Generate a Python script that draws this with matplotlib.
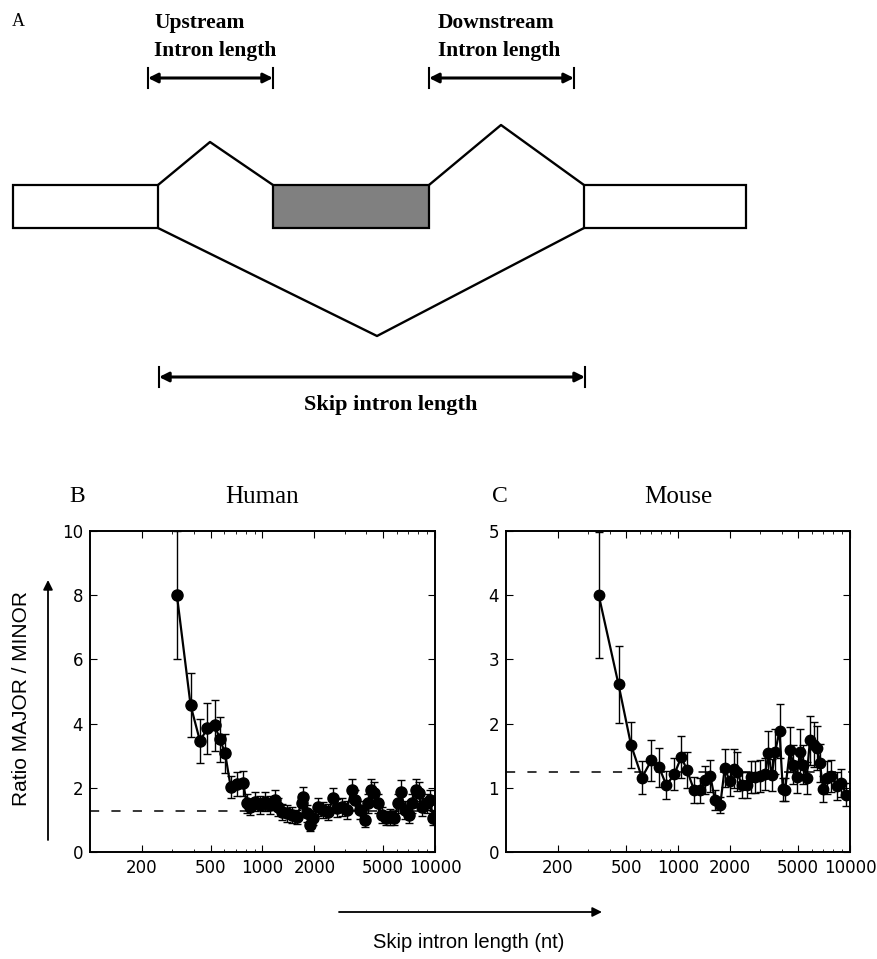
import matplotlib
matplotlib.use('Agg')
import matplotlib.pyplot as plt
from matplotlib.patches import Rectangle

# data
human_len = [319, 383, 434, 479, 528, 567, 607, 654, 708, 774,
             809, 847, 905, 968, 1034, 1105, 1181, 1235, 1291, 1380,
             1476, 1578, 1687, 1725, 1803, 1885, 1969, 2104, 2249, 2404,
             2570, 2690, 2876, 3076, 3289, 3436, 3674, 3927, 4104, 4253,
             4449, 4655, 4909, 5178, 5483, 5808, 6125, 6350, 6700, 7067,
             7387, 7724, 8072, 8440, 8940, 9350, 9770]
human_ratio = [8.0, 4.57, 3.46, 3.85, 3.95, 3.51, 3.07, 2.03, 2.11, 2.14,
               1.52, 1.41, 1.57, 1.46, 1.57, 1.46, 1.62, 1.41, 1.26, 1.20,
               1.15, 1.10, 1.52, 1.72, 1.20, 0.84, 1.05, 1.41, 1.31, 1.26,
               1.67, 1.36, 1.41, 1.31, 1.93, 1.62, 1.31, 1.00, 1.52, 1.93,
               1.83, 1.52, 1.15, 1.05, 1.10, 1.05, 1.52, 1.88, 1.31, 1.15,
               1.52, 1.93, 1.83, 1.41, 1.52, 1.62, 1.05]
human_err = [2.0, 1.0, 0.68, 0.8, 0.8, 0.7, 0.6, 0.35, 0.38, 0.38,
             0.3, 0.25, 0.3, 0.28, 0.3, 0.28, 0.3, 0.28, 0.25, 0.25,
             0.25, 0.22, 0.3, 0.3, 0.25, 0.2, 0.22, 0.28, 0.25, 0.25,
             0.32, 0.28, 0.28, 0.28, 0.35, 0.32, 0.28, 0.22, 0.3, 0.35,
             0.35, 0.3, 0.25, 0.22, 0.25, 0.22, 0.3, 0.35, 0.28, 0.25,
             0.3, 0.35, 0.35, 0.28, 0.3, 0.3, 0.22]

mouse_len = [346, 451, 533, 617, 701, 777, 855, 952, 1045, 1127,
             1237, 1340, 1440, 1540, 1640, 1760, 1870, 2000, 2107, 2203,
             2355, 2515, 2653, 2813, 3006, 3213, 3358, 3511, 3672, 3893,
             4066, 4197, 4478, 4685, 4896, 5120, 5350, 5590, 5850, 6190,
             6470, 6680, 6980, 7390, 7800, 8450, 8910, 9530]
mouse_ratio = [4.0, 2.61, 1.67, 1.16, 1.43, 1.32, 1.04, 1.21, 1.48, 1.28,
               0.97, 0.96, 1.12, 1.19, 0.81, 0.73, 1.31, 1.10, 1.30, 1.25,
               1.04, 1.04, 1.17, 1.17, 1.18, 1.22, 1.54, 1.20, 1.56, 1.89,
               0.98, 0.97, 1.59, 1.36, 1.17, 1.56, 1.36, 1.15, 1.74, 1.67,
               1.62, 1.39, 0.98, 1.16, 1.18, 1.03, 1.07, 0.89]
mouse_err = [0.98, 0.6, 0.36, 0.25, 0.32, 0.3, 0.22, 0.25, 0.32, 0.28,
             0.2, 0.2, 0.22, 0.25, 0.15, 0.12, 0.3, 0.22, 0.3, 0.3,
             0.2, 0.2, 0.25, 0.25, 0.25, 0.25, 0.35, 0.25, 0.35, 0.42,
             0.18, 0.18, 0.35, 0.3, 0.25, 0.35, 0.3, 0.25, 0.38, 0.35,
             0.35, 0.3, 0.2, 0.25, 0.25, 0.22, 0.22, 0.18]

baseline_human = 1.27
baseline_mouse = 1.25

xtick_vals = [200, 500, 1000, 2000, 5000, 10000]
human_yticks = [0, 2, 4, 6, 8, 10]
mouse_yticks = [0, 1, 2, 3, 4, 5]

W, H = 878, 959
fig = plt.figure(figsize=(W / 100, H / 100), dpi=100)

# background axes in pixel units for the schematic and the free labels
bg = fig.add_axes([0, 0, 1, 1])
bg.set_xlim(0, W)
bg.set_ylim(H, 0)
bg.axis('off')

serif = 'Liberation Serif'
sans = 'Liberation Sans'

# --- panel A: exon / intron schematic ---
exon_top, exon_bot = 185, 228
bg.add_patch(Rectangle((13, exon_top), 145, exon_bot - exon_top, fc='white', ec='k', lw=1.6))
bg.add_patch(Rectangle((273, exon_top), 156, exon_bot - exon_top, fc='#808080', ec='k', lw=1.6))
bg.add_patch(Rectangle((584, exon_top), 162, exon_bot - exon_top, fc='white', ec='k', lw=1.6))
bg.plot([158, 210, 273], [exon_top, 142, exon_top], color='k', lw=1.7)
bg.plot([429, 501, 584], [exon_top, 125, exon_top], color='k', lw=1.7)
bg.plot([158, 377, 584], [exon_bot, 336, exon_bot], color='k', lw=1.7)


def span_arrow(x0, x1, y, half=10):
    bg.annotate('', xy=(x1, y), xytext=(x0, y),
                arrowprops=dict(arrowstyle='<|-|>', color='k', lw=2.2,
                                mutation_scale=14, shrinkA=0, shrinkB=0))
    bg.plot([x0, x0], [y - half, y + half], color='k', lw=1.5)
    bg.plot([x1, x1], [y - half, y + half], color='k', lw=1.5)


span_arrow(148, 273, 78)
span_arrow(429, 574, 78)
span_arrow(159, 585, 377)

bg.text(12, 22, 'A', family=serif, fontsize=13, va='center', ha='left')
bg.text(154, 23, 'Upstream', family=serif, weight='bold', fontsize=15.5, va='center')
bg.text(154, 51, 'Intron length', family=serif, weight='bold', fontsize=15.5, va='center')
bg.text(438, 23, 'Downstream', family=serif, weight='bold', fontsize=15.5, va='center')
bg.text(438, 51, 'Intron length', family=serif, weight='bold', fontsize=15.5, va='center')
bg.text(391, 405, 'Skip intron length', family=serif, weight='bold', fontsize=16,
        va='center', ha='center')

# --- panels B and C ---
bg.text(77, 497, 'B', family=serif, fontsize=17, va='center', ha='center')
bg.text(500, 497, 'C', family=serif, fontsize=17, va='center', ha='center')

bg.text(22, 699, 'Ratio MAJOR / MINOR', family=sans, fontsize=15, rotation=90,
        va='center', ha='center')
bg.annotate('', xy=(48, 580), xytext=(48, 840),
            arrowprops=dict(arrowstyle='-|>', color='k', lw=1.3, mutation_scale=14,
                            shrinkA=0, shrinkB=0))
bg.annotate('', xy=(602, 912), xytext=(339, 912),
            arrowprops=dict(arrowstyle='-|>', color='k', lw=1.3, mutation_scale=14,
                            shrinkA=0, shrinkB=0))
bg.text(469, 943, 'Skip intron length (nt)', family=sans, fontsize=14.5,
        va='center', ha='center')


def panel(rect, xs, ys, err, base, ymax, yticks, title, ms):
    ax = fig.add_axes(rect)
    ax.axhline(base, color='k', lw=1.1, dashes=(6, 8))
    ax.errorbar(xs, ys, yerr=err, fmt='o-', color='k', ms=ms, lw=1.6,
                elinewidth=1, capsize=3, capthick=1)
    ax.set_xscale('log')
    ax.set_xlim(100, 10000)
    ax.set_ylim(0, ymax)
    ax.set_xticks(xtick_vals)
    ax.set_xticklabels([str(v) for v in xtick_vals])
    ax.set_yticks(yticks)
    ax.tick_params(which='both', direction='in', top=True, right=True,
                   labelsize=12, pad=5)
    ax.tick_params(which='major', length=5)
    ax.tick_params(which='minor', length=2.5)
    for s in ax.spines.values():
        s.set_linewidth(1.4)
    ax.set_title(title, family=serif, fontsize=18, pad=20)
    return ax


panel([90 / W, 1 - 852 / H, 345 / W, 321 / H], human_len, human_ratio, human_err,
      baseline_human, 10, human_yticks, 'Human', 8)
panel([506 / W, 1 - 852 / H, 344 / W, 321 / H], mouse_len, mouse_ratio, mouse_err,
      baseline_mouse, 5, mouse_yticks, 'Mouse', 7.5)

plt.savefig('out.png', dpi=100)
